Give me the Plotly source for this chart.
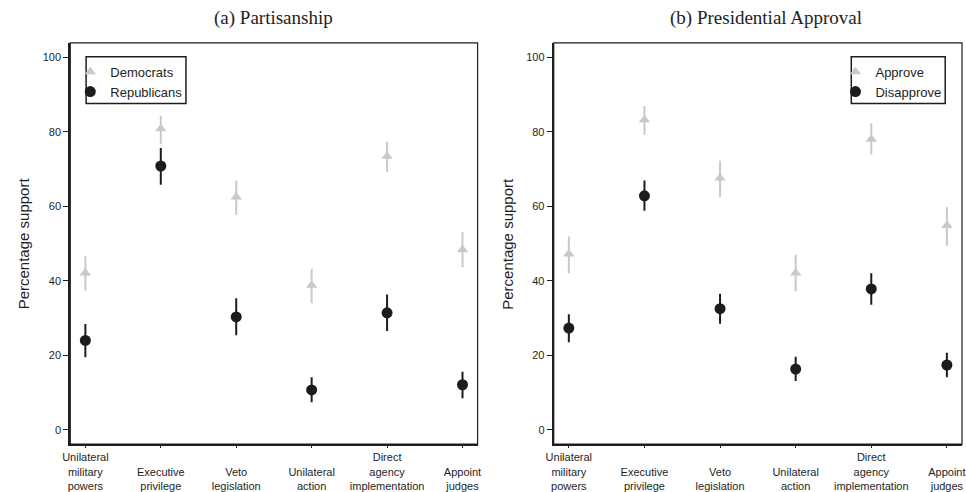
import plotly.graph_objects as go

categories = ["Unilateral<br>military<br>powers", "<br>Executive<br>privilege", "<br>Veto<br>legislation",
              "<br>Unilateral<br>action", "Direct<br>agency<br>implementation", "<br>Appoint<br>judges"]
positions = [1, 2, 3, 4, 5, 6]

# (a) Partisanship
dem_mean = [42.1, 80.8, 62.5, 38.8, 73.4, 48.3]
dem_lo = [37.4, 76.8, 57.7, 34.0, 69.2, 43.6]
dem_hi = [46.6, 84.3, 66.9, 43.2, 77.3, 53.0]
rep_mean = [24.0, 70.8, 30.3, 10.7, 31.4, 12.1]
rep_lo = [19.5, 65.8, 25.4, 7.4, 26.5, 8.5]
rep_hi = [28.4, 75.6, 35.3, 14.1, 36.3, 15.6]

# (b) Presidential Approval
app_mean = [47.2, 83.2, 67.6, 42.1, 78.0, 54.8]
app_lo = [42.0, 79.2, 62.5, 37.2, 73.9, 49.4]
app_hi = [51.9, 86.9, 72.2, 47.0, 82.3, 59.7]
dis_mean = [27.3, 62.8, 32.5, 16.3, 37.8, 17.4]
dis_lo = [23.5, 58.8, 28.5, 13.1, 33.6, 14.1]
dis_hi = [31.0, 66.9, 36.5, 19.6, 42.0, 20.7]

y_ticks = [0, 20, 40, 60, 80, 100]

LIGHT = "#c9c9c9"
DARK = "#1c1c1c"
INK = "#1e1e1e"
W, H = 966, 492

fig = go.Figure()


def add_series(mean, lo, hi, name, color, symbol, size, xa, ya, legend):
    fig.add_trace(go.Scatter(
        x=positions, y=mean, mode="markers", name=name,
        marker=dict(color=color, symbol=symbol, size=size, line=dict(width=0)),
        error_y=dict(type="data", symmetric=False,
                     array=[h - m for h, m in zip(hi, mean)],
                     arrayminus=[m - l for m, l in zip(mean, lo)],
                     color=color, thickness=2, width=0),
        xaxis=xa, yaxis=ya, legend=legend,
    ))


add_series(dem_mean, dem_lo, dem_hi, "Democrats", LIGHT, "triangle-up", 10, "x", "y", "legend")
add_series(rep_mean, rep_lo, rep_hi, "Republicans", DARK, "circle", 11, "x", "y", "legend")
add_series(app_mean, app_lo, app_hi, "Approve", LIGHT, "triangle-up", 10, "x2", "y2", "legend2")
add_series(dis_mean, dis_lo, dis_hi, "Disapprove", DARK, "circle", 11, "x2", "y2", "legend2")

xdom1 = [63 / W, 475 / W]
xdom2 = [552 / W, 965 / W]
ydom = [1 - 446 / H, 1 - 43 / H]

xcommon = dict(range=[0.8, 6.2], tickvals=positions, ticktext=categories,
               showgrid=False, zeroline=False, showline=True, linewidth=2, linecolor=INK,
               ticks="outside", ticklen=2, tickwidth=1, tickcolor=INK,
               tickfont=dict(family="Liberation Sans, Arial", size=11, color=INK))
ycommon = dict(range=[-3.85, 103.85], tickvals=y_ticks,
               showgrid=False, zeroline=False, showline=True, linewidth=2, linecolor=INK,
               ticks="outside", ticklen=5, tickwidth=1, tickcolor=INK,
               tickfont=dict(family="Liberation Sans, Arial", size=11, color=INK), domain=ydom)

legfont = dict(family="Liberation Sans, Arial", size=13, color=INK)
fig.update_layout(
    width=W, height=H, margin=dict(l=0, r=0, t=0, b=0),
    paper_bgcolor="white", plot_bgcolor="white",
    xaxis=dict(domain=xdom1, anchor="y", **xcommon),
    yaxis=dict(anchor="x", **ycommon),
    xaxis2=dict(domain=xdom2, anchor="y2", **xcommon),
    yaxis2=dict(anchor="x2", **ycommon),
    legend=dict(x=63 / W, y=1 - 57 / H, xanchor="left", yanchor="top",
                borderwidth=0, bgcolor="rgba(0,0,0,0)", font=legfont,
                itemwidth=30, tracegroupgap=0),
    legend2=dict(x=837 / W, y=1 - 57 / H, xanchor="left", yanchor="top",
                 borderwidth=0, bgcolor="rgba(0,0,0,0)", font=legfont,
                 itemwidth=30, tracegroupgap=0),
    showlegend=True,
)

for xr, yr in [("x", "y"), ("x2", "y2")]:
    fig.add_shape(type="rect", xref=f"{xr} domain", yref=f"{yr} domain",
                  x0=0, x1=1, y0=0, y1=1, line=dict(color=INK, width=1.2), layer="above")

# legend frames
for x0, x1 in [(79, 180), (853, 948)]:
    fig.add_shape(type="rect", xref="paper", yref="paper",
                  x0=x0 / W, x1=x1 / W, y0=1 - 104 / H, y1=1 - 57 / H,
                  line=dict(color=INK, width=1.5), layer="below")

fig.add_annotation(text="(a) Partisanship", x=269 / W, y=1 - 18 / H, xref="paper", yref="paper",
                   xanchor="center", yanchor="middle", showarrow=False,
                   font=dict(family="Liberation Serif, Times New Roman", size=19, color=INK))
fig.add_annotation(text="(b) Presidential Approval", x=767 / W, y=1 - 18 / H, xref="paper", yref="paper",
                   xanchor="center", yanchor="middle", showarrow=False,
                   font=dict(family="Liberation Serif, Times New Roman", size=19, color=INK))
for xc in [16, 505]:
    fig.add_annotation(text="Percentage support", x=xc / W, y=1 - 244.5 / H, xref="paper", yref="paper",
                       xanchor="center", yanchor="middle", showarrow=False, textangle=-90,
                       font=dict(family="Liberation Sans, Arial", size=15, color=INK))

fig.write_html("out.html", config={"displayModeBar": False},
               post_script="document.body.style.margin='0';document.body.style.overflow='hidden';")
